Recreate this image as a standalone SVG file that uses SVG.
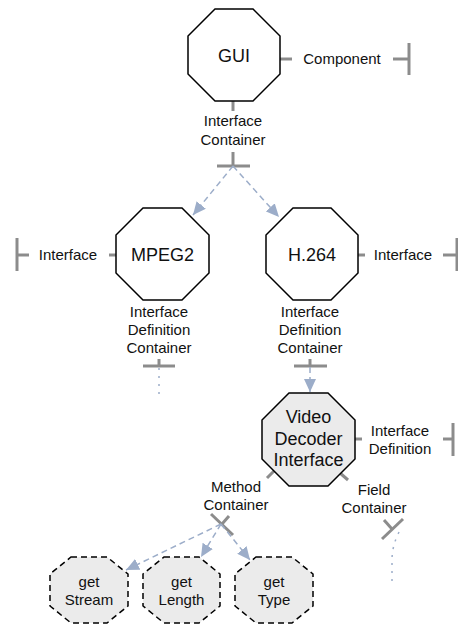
<svg xmlns="http://www.w3.org/2000/svg" width="458" height="625" viewBox="0 0 458 625">
  <defs>
    <style>
      .oct { fill: #ffffff; stroke: #000000; stroke-width: 1.5; }
      .oct-fill { fill: #ebebeb; stroke: #000000; stroke-width: 1.5; }
      .oct-dash { fill: #ebebeb; stroke: #000000; stroke-width: 1.5; stroke-dasharray: 6 4; }
      .big { font-family: "Liberation Sans", Arial, sans-serif; font-size: 18px; fill: #111111; text-anchor: middle; }
      .lbl { font-family: "Liberation Sans", Arial, sans-serif; font-size: 15px; fill: #111111; text-anchor: middle; }
      .tick { stroke: #8c8c8c; stroke-width: 3; fill: none; }
      .edge { stroke: #9cadc9; stroke-width: 1.5; stroke-dasharray: 6 4; fill: none; }
      .dots { stroke: #9cadc9; stroke-width: 1.5; stroke-dasharray: 2 6; fill: none; }
    </style>
    <marker id="arrow" markerUnits="userSpaceOnUse" markerWidth="14" markerHeight="12" refX="13" refY="6" orient="auto">
      <path d="M0,0 L13,6 L0,12 Z" fill="#9cadc9"/>
    </marker>
  </defs>

  <!-- role labels and end bars -->
  <g id="roles">
    <!-- GUI: Component -->
    <line class="tick" x1="280" y1="59" x2="292" y2="59"/>
    <text class="lbl" x="342" y="64">Component</text>
    <line class="tick" x1="393" y1="59" x2="409" y2="59"/>
    <line class="tick" x1="409" y1="43" x2="409" y2="75"/>

    <!-- GUI: Interface Container -->
    <line class="tick" x1="233" y1="101" x2="233" y2="111"/>
    <text class="lbl" x="233" y="126">Interface</text>
    <text class="lbl" x="233" y="145">Container</text>
    <line class="tick" x1="233" y1="152" x2="233" y2="166"/>
    <line class="tick" x1="217" y1="166" x2="250" y2="166"/>

    <!-- MPEG2: Interface -->
    <line class="tick" x1="109" y1="255" x2="116" y2="255"/>
    <text class="lbl" x="68" y="260">Interface</text>
    <line class="tick" x1="17" y1="255" x2="29" y2="255"/>
    <line class="tick" x1="17" y1="238" x2="17" y2="271"/>

    <!-- MPEG2: Interface Definition Container -->
    <text class="lbl" x="159" y="317">Interface</text>
    <text class="lbl" x="159" y="335">Definition</text>
    <text class="lbl" x="159" y="353">Container</text>
    <line class="tick" x1="159" y1="359" x2="159" y2="366"/>
    <line class="tick" x1="143" y1="366" x2="175" y2="366"/>

    <!-- H.264: Interface -->
    <line class="tick" x1="358" y1="255" x2="365" y2="255"/>
    <text class="lbl" x="403" y="260">Interface</text>
    <line class="tick" x1="443" y1="255" x2="457" y2="255"/>
    <line class="tick" x1="457" y1="238" x2="457" y2="271"/>

    <!-- H.264: Interface Definition Container -->
    <text class="lbl" x="310" y="317">Interface</text>
    <text class="lbl" x="310" y="335">Definition</text>
    <text class="lbl" x="310" y="353">Container</text>
    <line class="tick" x1="310" y1="359" x2="310" y2="366"/>
    <line class="tick" x1="294" y1="366" x2="327" y2="366"/>

    <!-- Video Decoder Interface: Interface Definition -->
    <line class="tick" x1="355" y1="439" x2="362" y2="439"/>
    <text class="lbl" x="400" y="436">Interface</text>
    <text class="lbl" x="400" y="454">Definition</text>
    <line class="tick" x1="443" y1="439" x2="453" y2="439"/>
    <line class="tick" x1="453" y1="423" x2="453" y2="456"/>

    <!-- Video Decoder Interface: Method Container -->
    <line class="tick" x1="276" y1="469" x2="267" y2="478"/>
    <text class="lbl" x="236" y="492">Method</text>
    <text class="lbl" x="236" y="510">Container</text>
    <line class="tick" x1="229" y1="516" x2="222" y2="524"/>
    <line class="tick" x1="211" y1="514" x2="233" y2="535"/>

    <!-- Video Decoder Interface: Field Container -->
    <line class="tick" x1="340" y1="473" x2="348" y2="480"/>
    <text class="lbl" x="374" y="495">Field</text>
    <text class="lbl" x="374" y="513">Container</text>
    <line class="tick" x1="384" y1="520" x2="392" y2="529"/>
    <line class="tick" x1="382" y1="539" x2="403" y2="519"/>
  </g>

  <!-- connectors -->
  <g id="connectors">
    <line class="edge" x1="233" y1="166" x2="193" y2="215" marker-end="url(#arrow)"/>
    <line class="edge" x1="233" y1="166" x2="279" y2="217" marker-end="url(#arrow)"/>
    <line class="edge" x1="310" y1="367" x2="310" y2="392" marker-end="url(#arrow)"/>
    <line class="edge" x1="221" y1="524" x2="126" y2="570" marker-end="url(#arrow)"/>
    <line class="edge" x1="221" y1="524" x2="201" y2="557" marker-end="url(#arrow)"/>
    <line class="edge" x1="221" y1="524" x2="250" y2="560" marker-end="url(#arrow)"/>
    <line class="dots" x1="159" y1="368" x2="159" y2="400"/>
    <path class="dots" d="M399,532 Q392,546 392,560 L392,581"/>
  </g>

  <!-- nodes -->
  <g id="gui">
    <polygon class="oct" points="215,9 253,9 280,36 280,74 253,101 215,101 188,74 188,36"/>
    <text class="big" x="234" y="62">GUI</text>
  </g>
  <g id="mpeg2">
    <polygon class="oct" points="143,208 182,208 209,235 209,273 182,300 143,300 116,273 116,235"/>
    <text class="big" x="162.5" y="261">MPEG2</text>
  </g>
  <g id="h264">
    <polygon class="oct" points="293,208 331,208 358,235 358,273 331,300 293,300 266,273 266,235"/>
    <text class="big" x="312" y="261">H.264</text>
  </g>
  <g id="video-decoder-interface">
    <polygon class="oct-fill" points="289,393 328,393 355,420 355,459 328,486 289,486 262,459 262,420"/>
    <text class="big" x="308.5" y="423">Video</text>
    <text class="big" x="308.5" y="445">Decoder</text>
    <text class="big" x="308.5" y="466">Interface</text>
  </g>
  <g id="get-stream">
    <polygon class="oct-dash" points="71,557 107,557 128,574 128,606 107,623 71,623 50,606 50,574"/>
    <text class="lbl" x="89" y="587">get</text>
    <text class="lbl" x="89" y="605">Stream</text>
  </g>
  <g id="get-length">
    <polygon class="oct-dash" points="164,557 199,557 220,574 220,606 199,623 164,623 143,606 143,574"/>
    <text class="lbl" x="181.5" y="587">get</text>
    <text class="lbl" x="181.5" y="605">Length</text>
  </g>
  <g id="get-type">
    <polygon class="oct-dash" points="256,557 292,557 313,574 313,606 292,623 256,623 235,606 235,574"/>
    <text class="lbl" x="274" y="587">get</text>
    <text class="lbl" x="274" y="605">Type</text>
  </g>
</svg>
